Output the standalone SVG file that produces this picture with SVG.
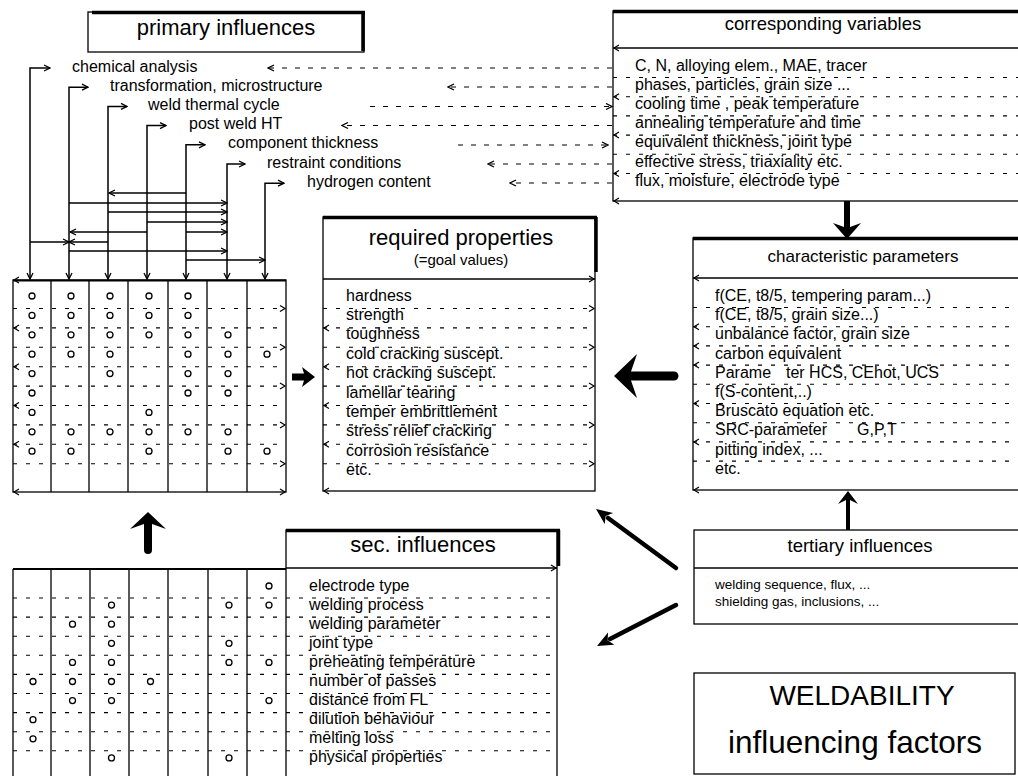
<svg xmlns="http://www.w3.org/2000/svg" xmlns:xlink="http://www.w3.org/1999/xlink" width="1018" height="776" viewBox="0 0 1018 776">
<style>
text{font-family:"Liberation Sans",Arial,Helvetica,sans-serif;fill:#000}
.tt{font-size:22px}
.it{font-size:16px}
.sm{font-size:13.5px}
.bx{fill:#fff;stroke:#000;stroke-width:1.3}
.ln{fill:none;stroke:#000;stroke-width:1.3}
.th{fill:none;stroke:#000;stroke-width:3.5}
.cn{fill:none;stroke:#000;stroke-width:1.5}
.da{fill:none;stroke:#000;stroke-width:1.1;stroke-dasharray:4 9}
.dl{fill:none;stroke:#000;stroke-width:1.1;stroke-dasharray:5 8}
.c circle{fill:#fff;stroke:#000;stroke-width:1.3;r:3px}
.big{fill:#000;stroke:none}
</style>
<defs>
<marker id="ah" viewBox="0 0 8 8" refX="7" refY="4" markerWidth="8" markerHeight="8" markerUnits="userSpaceOnUse" orient="auto-start-reverse"><path d="M1,1 L7,4 L1,7" fill="none" stroke="#000" stroke-width="1.3"/></marker>
<path id="ml" d="M5,-3 L0,0 L5,3" fill="none" stroke="#000" stroke-width="1.2"/>
<path id="mr" d="M-5,-3 L0,0 L-5,3" fill="none" stroke="#000" stroke-width="1.2"/>
</defs>
<rect width="1018" height="776" fill="#fff"/>

<g id="primary-influences">
<rect class="bx" x="88" y="12" width="276" height="40"/>
<path class="th" d="M92,12.5 L365,12.5 M363,12 L363,51"/>
<text class="tt" x="226" y="35" text-anchor="middle">primary influences</text>
</g>

<g id="label-chemical"><text class="it" x="72" y="71.5">chemical analysis</text></g>
<g id="label-transformation"><text class="it" x="110" y="90.7">transformation, microstructure</text></g>
<g id="label-thermal"><text class="it" x="148" y="109.9">weld thermal cycle</text></g>
<g id="label-pwht"><text class="it" x="189" y="129.1">post weld HT</text></g>
<g id="label-thickness"><text class="it" x="228" y="148.3">component thickness</text></g>
<g id="label-restraint"><text class="it" x="267" y="167.5">restraint conditions</text></g>
<g id="label-hydrogen"><text class="it" x="307" y="186.7">hydrogen content</text></g>

<g id="corresponding-variables">
<rect class="bx" x="613" y="11" width="420" height="190"/>
<path class="th" d="M613,11.5 L1018,11.5"/>
<path class="ln" d="M613,48 L1018,48"/>
<text x="823" y="30" text-anchor="middle" style="font-size:18.5px">corresponding variables</text>
<path class="da" d="M613,77.5 H1018 M613,96.7 H1018 M613,115.9 H1018 M613,135.1 H1018 M613,154.3 H1018 M613,173.5 H1018"/>
<use xlink:href="#ml" x="614" y="48"/><use xlink:href="#ml" x="614" y="96.7"/><use xlink:href="#ml" x="614" y="135.1"/><use xlink:href="#ml" x="614" y="173.5"/><use xlink:href="#ml" x="614" y="201"/>
<text class="it" x="635" y="70.5">C, N, alloying elem., MAE, tracer</text>
<text class="it" x="635" y="89.7">phases, particles, grain size ...</text>
<text class="it" x="635" y="108.9">cooling time , peak temperature</text>
<text class="it" x="635" y="128.1">annealing temperature and time</text>
<text class="it" x="635" y="147.3">equivalent thickness, joint type</text>
<text class="it" x="635" y="166.5">effective stress, triaxiality etc.</text>
<text class="it" x="635" y="185.7">flux, moisture, electrode type</text>
</g>

<g id="primary-matrix">
<rect class="bx" x="13" y="280" width="273" height="212"/>
<path class="ln" d="M13,280.5 H286" style="stroke-width:2"/>
<path class="ln" d="M51,280 V492 M89,280 V492 M128,280 V492 M168,280 V492 M207,280 V492 M247,280 V492"/>
<path class="da" d="M13,308.5 H286 M13,327.9 H286 M13,347.3 H286 M13,366.7 H286 M13,386.1 H286 M13,405.5 H286 M13,424.9 H286 M13,444.3 H286 M13,463.7 H286"/>
<use xlink:href="#ml" x="14" y="280"/><use xlink:href="#ml" x="14" y="327.9"/><use xlink:href="#ml" x="14" y="366.7"/><use xlink:href="#ml" x="14" y="405.5"/><use xlink:href="#ml" x="14" y="444.3"/><use xlink:href="#ml" x="14" y="492"/>
<use xlink:href="#mr" x="285" y="308.5"/><use xlink:href="#mr" x="285" y="347.3"/><use xlink:href="#mr" x="285" y="386.1"/><use xlink:href="#mr" x="285" y="424.9"/><use xlink:href="#mr" x="285" y="463.7"/><use xlink:href="#mr" x="285" y="492"/>
<g class="c">
<circle cx="32" cy="296" r="3"/><circle cx="71" cy="296" r="3"/><circle cx="110" cy="296" r="3"/><circle cx="149" cy="296" r="3"/><circle cx="188" cy="296" r="3"/>
<circle cx="32" cy="315.4" r="3"/><circle cx="71" cy="315.4" r="3"/><circle cx="110" cy="315.4" r="3"/><circle cx="149" cy="315.4" r="3"/><circle cx="188" cy="315.4" r="3"/>
<circle cx="32" cy="334.8" r="3"/><circle cx="71" cy="334.8" r="3"/><circle cx="110" cy="334.8" r="3"/><circle cx="149" cy="334.8" r="3"/><circle cx="188" cy="334.8" r="3"/><circle cx="228" cy="334.8" r="3"/>
<circle cx="32" cy="354.2" r="3"/><circle cx="71" cy="354.2" r="3"/><circle cx="110" cy="354.2" r="3"/><circle cx="188" cy="354.2" r="3"/><circle cx="228" cy="354.2" r="3"/><circle cx="267" cy="354.2" r="3"/>
<circle cx="32" cy="373.6" r="3"/><circle cx="110" cy="373.6" r="3"/><circle cx="188" cy="373.6" r="3"/><circle cx="228" cy="373.6" r="3"/>
<circle cx="32" cy="393" r="3"/><circle cx="188" cy="393" r="3"/><circle cx="228" cy="393" r="3"/>
<circle cx="32" cy="412.4" r="3"/><circle cx="149" cy="412.4" r="3"/>
<circle cx="32" cy="431.8" r="3"/><circle cx="71" cy="431.8" r="3"/><circle cx="110" cy="431.8" r="3"/><circle cx="149" cy="431.8" r="3"/><circle cx="188" cy="431.8" r="3"/><circle cx="228" cy="431.8" r="3"/>
<circle cx="32" cy="451.2" r="3"/><circle cx="71" cy="451.2" r="3"/><circle cx="149" cy="451.2" r="3"/><circle cx="228" cy="451.2" r="3"/><circle cx="267" cy="451.2" r="3"/>
</g>
</g>

<g id="required-properties">
<rect class="bx" x="323" y="217" width="272" height="274"/>
<path class="th" d="M323,217.5 L597,217.5 M596,217 L596,272"/>
<path class="ln" d="M323,279 H595"/>
<text class="tt" x="461" y="245" text-anchor="middle">required properties</text>
<text x="461" y="265" text-anchor="middle" style="font-size:15px">(=goal values)</text>
<path class="da" d="M323,308.5 H595 M323,327.9 H595 M323,347.3 H595 M323,366.7 H595 M323,386.1 H595 M323,405.5 H595 M323,424.9 H595 M323,444.3 H595 M323,463.7 H595"/>
<use xlink:href="#mr" x="594" y="279"/><use xlink:href="#mr" x="594" y="308.5"/><use xlink:href="#mr" x="594" y="347.3"/><use xlink:href="#mr" x="594" y="386.1"/><use xlink:href="#mr" x="594" y="424.9"/><use xlink:href="#mr" x="594" y="463.7"/>
<use xlink:href="#ml" x="324" y="327.9"/><use xlink:href="#ml" x="324" y="366.7"/><use xlink:href="#ml" x="324" y="405.5"/><use xlink:href="#ml" x="324" y="444.3"/><use xlink:href="#ml" x="324" y="491"/>
<text class="it" x="346" y="300.5">hardness</text>
<text class="it" x="346" y="319.9">strength</text>
<text class="it" x="346" y="339.3">toughness</text>
<text class="it" x="346" y="358.7">cold cracking suscept.</text>
<text class="it" x="346" y="378.1">hot cracking suscept.</text>
<text class="it" x="346" y="397.5">lamellar tearing</text>
<text class="it" x="346" y="416.9">temper embrittlement</text>
<text class="it" x="346" y="436.3">stress relief cracking</text>
<text class="it" x="346" y="455.7">corrosion resistance</text>
<text class="it" x="346" y="475.1">etc.</text>
</g>

<g id="characteristic-parameters">
<rect class="bx" x="693" y="238" width="340" height="252"/>
<path class="th" d="M693,238.5 L1018,238.5"/>
<path class="ln" d="M693,278 H1018"/>
<text x="863" y="262" text-anchor="middle" style="font-size:17px">characteristic parameters</text>
<path class="da" d="M693,307.5 H1018 M693,326.7 H1018 M693,345.9 H1018 M693,365.1 H1018 M693,384.3 H1018 M693,403.5 H1018 M693,422.7 H1018 M693,441.9 H1018 M693,461.1 H1018"/>
<use xlink:href="#ml" x="694" y="278"/><use xlink:href="#ml" x="694" y="326.7"/><use xlink:href="#ml" x="694" y="345.9"/><use xlink:href="#ml" x="694" y="365.1"/><use xlink:href="#ml" x="694" y="403.5"/><use xlink:href="#ml" x="694" y="441.9"/><use xlink:href="#ml" x="694" y="490"/>
<text class="it" x="715" y="301">f(CE, t8/5, tempering param...)</text>
<text class="it" x="715" y="320.2">f(CE, t8/5, grain size...)</text>
<text class="it" x="715" y="339.4">unbalance factor, grain size</text>
<text class="it" x="715" y="358.6">carbon equivalent</text>
<text class="it" x="715" y="377.8">Parame</text>
<text class="it" x="786" y="377.8">ter HCS, CEhot, UCS</text>
<text class="it" x="715" y="397">f(S-content,..)</text>
<text class="it" x="715" y="416.2">Bruscato equation etc.</text>
<text class="it" x="715" y="435.4">SRC-parameter</text>
<text class="it" x="857" y="435.4">G,P,T</text>
<text class="it" x="715" y="454.6">pitting index, ...</text>
<text class="it" x="715" y="473.8">etc.</text>
</g>

<g id="tertiary-influences">
<rect class="bx" x="694" y="530" width="340" height="94"/>
<path class="ln" d="M694,568 H1018"/>
<text x="860" y="552" text-anchor="middle" style="font-size:18.5px">tertiary influences</text>
<text class="sm" x="715" y="589">welding sequence, flux, ...</text>
<text class="sm" x="715" y="606">shielding gas, inclusions, ...</text>
</g>

<g id="sec-influences">
<rect class="bx" x="286" y="530" width="271" height="260"/>
<path class="th" d="M286,530.5 L560,530.5 M558.5,530 L558.5,566"/>
<path class="ln" d="M286,568 H557"/>
<use xlink:href="#mr" x="556" y="568"/>
<text class="tt" x="423" y="552" text-anchor="middle">sec. influences</text>
<path class="da" d="M286,598 H557 M286,617.1 H557 M286,636.2 H557 M286,655.3 H557 M286,674.4 H557 M286,693.5 H557 M286,712.6 H557 M286,731.7 H557 M286,750.8 H557"/>
<text class="it" x="309" y="590.5">electrode type</text>
<text class="it" x="309" y="609.6">welding process</text>
<text class="it" x="309" y="628.7">welding parameter</text>
<text class="it" x="309" y="647.8">joint type</text>
<text class="it" x="309" y="666.9">preheating temperature</text>
<text class="it" x="309" y="686">number of passes</text>
<text class="it" x="309" y="705.1">distance from FL</text>
<text class="it" x="309" y="724.2">dilution behaviour</text>
<text class="it" x="309" y="743.3">melting loss</text>
<text class="it" x="309" y="762.4">physical properties</text>
</g>

<g id="sec-matrix">
<path class="ln" d="M13,569 H286" style="stroke-width:2"/>
<path class="ln" d="M13,569 V790 M51,569 V790 M90,569 V790 M129,569 V790 M168,569 V790 M208,569 V790 M247,569 V790"/>
<path class="da" d="M13,598 H286 M13,617.1 H286 M13,636.2 H286 M13,655.3 H286 M13,674.4 H286 M13,693.5 H286 M13,712.6 H286 M13,731.7 H286 M13,750.8 H286"/>
<g class="c">
<circle cx="269" cy="586" r="3"/>
<circle cx="111.5" cy="605.1" r="3"/><circle cx="229" cy="605.1" r="3"/><circle cx="269" cy="605.1" r="3"/>
<circle cx="72.5" cy="624.2" r="3"/><circle cx="111.5" cy="624.2" r="3"/>
<circle cx="111.5" cy="643.3" r="3"/><circle cx="229" cy="643.3" r="3"/>
<circle cx="72.5" cy="662.4" r="3"/><circle cx="111.5" cy="662.4" r="3"/><circle cx="229" cy="662.4" r="3"/><circle cx="269" cy="662.4" r="3"/>
<circle cx="33" cy="681.5" r="3"/><circle cx="72.5" cy="681.5" r="3"/><circle cx="111.5" cy="681.5" r="3"/><circle cx="150.5" cy="681.5" r="3"/>
<circle cx="72.5" cy="700.6" r="3"/><circle cx="111.5" cy="700.6" r="3"/><circle cx="269" cy="700.6" r="3"/>
<circle cx="33" cy="719.7" r="3"/>
<circle cx="33" cy="738.8" r="3"/>
<circle cx="111.5" cy="757.9" r="3"/><circle cx="229" cy="757.9" r="3"/>
</g>
</g>

<g id="weldability">
<rect class="bx" x="694" y="673" width="321" height="101"/>
<text x="862" y="705" text-anchor="middle" style="font-size:28px">WELDABILITY</text>
<text x="855" y="753" text-anchor="middle" style="font-size:31.5px">influencing factors</text>
</g>

<g id="connectors">
<g class="cn" marker-start="url(#ah)" marker-end="url(#ah)">
<path d="M50,68 H30 V279"/>
<path d="M88,87.2 H69 V279"/>
<path d="M127,106.4 H108 V279"/>
<path d="M166,125.6 H147 V279"/>
<path d="M205,144.8 H186 V279"/>
<path d="M245,164 H227 V279"/>
<path d="M284,183.2 H265 V279"/>
</g>
<g class="cn" marker-end="url(#ah)">
<path d="M186,193 H109"/>
<path d="M69,203 H227"/>
<path d="M108,212 H227"/>
<path d="M147,222 H227"/>
<path d="M147,232 H70"/>
<path d="M186,232 H227"/>
<path d="M30,242 H69"/>
<path d="M108,242 H69"/>
<path d="M69,251 H227"/>
<path d="M186,260 H265"/>
</g>
<g class="dl" marker-end="url(#ah)">
<path d="M612,68 H268"/>
<path d="M612,87 H448"/>
<path d="M370,106.5 H612"/>
<path d="M612,125.5 H342"/>
<path d="M458,145 H608"/>
<path d="M612,164 H488"/>
<path d="M612,183 H510"/>
</g>
<path class="big" d="M844,201 L850,201 L850,227 L861,223 L847,239 L833,223 L844,227 Z"/>
<path class="big" d="M614,376 L637,354 L631,371.5 L674,371.5 A4.5,4.5 0 0 1 674,380.5 L631,380.5 L637,398 Z"/>
<path class="big" d="M292,373.5 L304,373.5 L302,367 L315,377 L302,387 L304,380.5 L292,380.5 Z"/>
<path class="big" d="M148,512 L166,529 L152,524 L152,550 A4,4 0 0 1 144,550 L144,524 L130,529 Z"/>
<path class="big" d="M848,491 L858,504 L850,500 L850,530 L846,530 L846,500 L838,504 Z"/>
<path d="M676,568 L608,518" fill="none" stroke="#000" stroke-width="4.5" stroke-linecap="round"/>
<path class="big" d="M596,509 L613.1,512.9 L605.7,516.1 L604.7,524.1 Z"/>
<path d="M676,605 L610,639" fill="none" stroke="#000" stroke-width="4.5" stroke-linecap="round"/>
<path class="big" d="M597,646 L608,632.4 L607.7,640.5 L614.4,644.8 Z"/>
</g>
</svg>
